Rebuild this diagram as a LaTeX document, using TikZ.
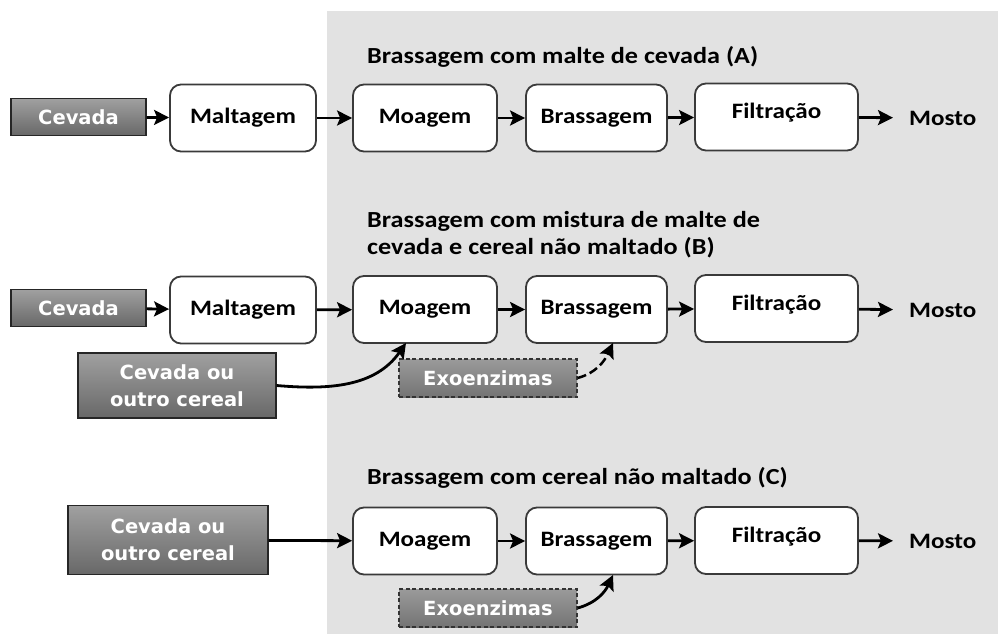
\documentclass[tikz,border=0pt]{standalone}
\usepackage{fontspec}
\setmainfont{Carlito}[FakeStretch=1.14]
\newfontfamily\whitefont{DejaVu Sans}
\usetikzlibrary{arrows.meta}

\definecolor{panelgray}{HTML}{E2E2E2}
\definecolor{srctop}{HTML}{A0A0A0}
\definecolor{srcbot}{HTML}{686868}
\definecolor{enztop}{HTML}{9A9A9A}
\definecolor{enzbot}{HTML}{747474}
\definecolor{boxline}{HTML}{3A3A3A}

\begin{document}
\begin{tikzpicture}[x=1pt,y=-1pt,
  proc/.style={draw=boxline, line width=1.8pt, rounded corners=11pt, fill=white,
    inner sep=0pt, align=center, font=\bfseries\fontsize{22}{24}\selectfont},
  src/.style={draw=black!85, line width=1.2pt, top color=srctop, bottom color=srcbot,
    inner sep=0pt, align=center, text=white, font=\whitefont\bfseries\fontsize{19.5}{27}\selectfont},
  enz/.style={draw=black!80, line width=1.2pt, dashed, dash pattern=on 4pt off 2.5pt,
    top color=enztop, bottom color=enzbot, minimum width=178pt, minimum height=38pt,
    inner sep=0pt, text=white, font=\whitefont\bfseries\fontsize{19.5}{22}\selectfont},
  title/.style={anchor=west, inner sep=0pt, align=left, font=\bfseries\fontsize{23}{27}\selectfont},
  outtxt/.style={anchor=west, inner xsep=16pt, inner ysep=0pt, font=\bfseries\fontsize{22}{24}\selectfont},
  arr/.style={line width=2.8pt, -{Stealth[length=15pt,width=15pt,inset=3pt]}},
  darr/.style={line width=2.5pt, dash pattern=on 9pt off 4pt, -{Stealth[length=15pt,width=15pt,inset=3pt]}}
]
\useasboundingbox (0,0) rectangle (998,634);
% shaded panel behind the brewing stages
\fill[panelgray] (327,11) rectangle (998,634);

% ---------- (A) malted barley ----------
\node[title] (tA) at (367,57) {Brassagem com malte de cevada (A)};
\node[src, minimum width=135pt, minimum height=37pt] (cevA) at (78.5,117) {Cevada};
\node[proc, minimum width=146pt, minimum height=67pt] (malA) at (243,118) {\raisebox{-1pt}{Maltagem}};
\node[proc, minimum width=144pt, minimum height=67pt] (moaA) at (425,118) {\raisebox{-6pt}{Moagem}};
\node[proc, minimum width=141pt, minimum height=67pt] (braA) at (596.5,118) {\raisebox{4pt}{Brassagem}};
\node[proc, minimum width=163pt, minimum height=67pt] (filA) at (776.5,117) {\raisebox{12pt}{Filtração}};
\node[outtxt] (mosA) at (893,118) {Mosto};
\draw[arr] (cevA) -- (malA);
\draw[arr] (malA) -- (moaA);
\draw[arr] (moaA) -- (braA);
\draw[arr] (braA) -- (filA);
\draw[arr] (filA) -- (mosA);

% ---------- (B) malt plus unmalted cereal ----------
\node[title] (tB) at (367,235) {Brassagem com mistura de malte de\\cevada e cereal não maltado (B)};
\node[src, minimum width=135pt, minimum height=37pt] (cevB) at (78.5,308) {Cevada};
\node[proc, minimum width=146pt, minimum height=67pt] (malB) at (243,310) {\raisebox{-1pt}{Maltagem}};
\node[proc, minimum width=144pt, minimum height=67pt] (moaB) at (425,309.5) {\raisebox{-6pt}{Moagem}};
\node[proc, minimum width=141pt, minimum height=67pt] (braB) at (596.5,309.5) {\raisebox{4pt}{Brassagem}};
\node[proc, minimum width=163pt, minimum height=67pt] (filB) at (776.5,308.5) {\raisebox{12pt}{Filtração}};
\node[outtxt] (mosB) at (893,310) {Mosto};
\node[src, minimum width=198pt, minimum height=65pt] (ceoB) at (177,385.5) {Cevada ou\\outro cereal};
\node[enz] (enzB) at (488,378) {Exoenzimas};
\coordinate (moaBin) at (406,343);
\coordinate (braBin) at (613,343);
\draw[arr] (cevB) -- (malB);
\draw[arr] (malB) -- (moaB);
\draw[arr] (moaB) -- (braB);
\draw[arr] (braB) -- (filB);
\draw[arr] (filB) -- (mosB);
\draw[arr] (ceoB.east) to[out=-5, in=235] (moaBin);
\draw[darr] (enzB.east) to[out=15, in=245] (braBin);

% ---------- (C) unmalted cereal only ----------
\node[title] (tC) at (367,478) {Brassagem com cereal não maltado (C)};
\node[src, minimum width=200pt, minimum height=69pt] (ceoC) at (168,540) {Cevada ou\\outro cereal};
\node[proc, minimum width=144pt, minimum height=67pt] (moaC) at (425,541) {\raisebox{-6pt}{Moagem}};
\node[proc, minimum width=141pt, minimum height=67pt] (braC) at (596.5,541) {\raisebox{4pt}{Brassagem}};
\node[proc, minimum width=163pt, minimum height=67pt] (filC) at (776.5,540.5) {\raisebox{12pt}{Filtração}};
\node[outtxt] (mosC) at (893,541) {Mosto};
\node[enz] (enzC) at (488,608) {Exoenzimas};
\coordinate (braCin) at (613,575);
\draw[arr] (ceoC) -- (moaC);
\draw[arr] (moaC) -- (braC);
\draw[arr] (braC) -- (filC);
\draw[arr] (filC) -- (mosC);
\draw[arr] (enzC.east) to[out=15, in=245] (braCin);
\end{tikzpicture}
\end{document}
